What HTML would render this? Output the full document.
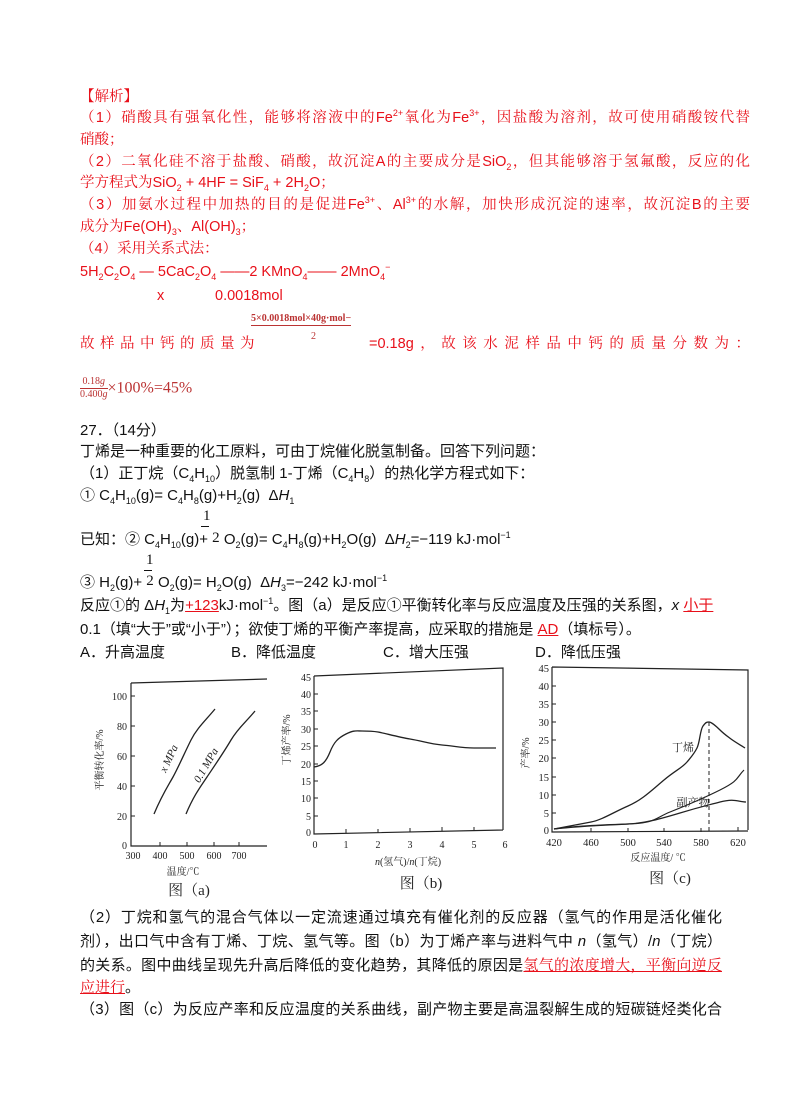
<!DOCTYPE html>
<html><head><meta charset="utf-8">
<style>
html,body{margin:0;padding:0;background:#fff;}
body{width:800px;height:1109px;position:relative;overflow:hidden;}
.l{position:absolute;left:80px;white-space:nowrap;line-height:20px;}
.r{color:#e8101a;font-family:"Liberation Sans","Noto Serif CJK SC",serif;font-size:14.5px;}
.k{color:#111;font-family:"Liberation Sans","Noto Sans CJK SC",sans-serif;font-size:15px;}
.j{width:670px;text-align:justify;text-align-last:justify;}
.jb{width:642px;text-align:justify;text-align-last:justify;}
sub,sup{font-size:9px;line-height:0;}
.u{text-decoration:underline;color:#e8101a;}
svg{position:absolute;left:0;top:0;}
</style></head><body>
<div class="l r" style="top:87px;">【解析】</div>
<div class="l r j" style="top:108px;">（1）硝酸具有强氧化性，能够将溶液中的Fe<sup>2+</sup>氧化为Fe<sup>3+</sup>，因盐酸为溶剂，故可使用硝酸铵代替</div>
<div class="l r" style="top:130px;">硝酸；</div>
<div class="l r j" style="top:152px;">（2）二氧化硅不溶于盐酸、硝酸，故沉淀A的主要成分是SiO<sub>2</sub>，但其能够溶于氢氟酸，反应的化</div>
<div class="l r" style="top:173px;">学方程式为SiO<sub>2</sub> + 4HF = SiF<sub>4</sub> + 2H<sub>2</sub>O；</div>
<div class="l r j" style="top:195px;">（3）加氨水过程中加热的目的是促进Fe<sup>3+</sup>、Al<sup>3+</sup>的水解，加快形成沉淀的速率，故沉淀B的主要</div>
<div class="l r" style="top:217px;">成分为Fe(OH)<sub>3</sub>、Al(OH)<sub>3</sub>；</div>
<div class="l r" style="top:239px;">（4）采用关系式法：</div>
<div class="l r" style="top:262px;">5H<sub>2</sub>C<sub>2</sub>O<sub>4</sub> — 5CaC<sub>2</sub>O<sub>4</sub> ——2 KMnO<sub>4</sub>—— 2MnO<sub>4</sub><sup>−</sup></div>
<div class="l r" style="top:286px;left:157px;">x</div>
<div class="l r" style="top:286px;left:215px;">0.0018mol</div>
<div class="l" style="top:312px;left:251px;font:bold 10px 'Liberation Serif',serif;color:#b33;border-bottom:1px solid #b33;line-height:13px;">5×0.0018mol×40g·mol−</div>
<div class="l" style="top:331px;left:311px;font:10px 'Liberation Serif',serif;color:#b33;">2</div>
<div class="l r" style="top:334px;letter-spacing:5.5px;">故样品中钙的质量为</div>
<div class="l r" style="top:334px;left:369px;width:381px;text-align:justify;text-align-last:justify;">=0.18g，故该水泥样品中钙的质量分数为：</div>
<div class="l" style="top:376px;font:10px 'Liberation Serif',serif;color:#b33;line-height:12px;"><span style="display:inline-block;text-align:center;vertical-align:middle;"><span style="display:block;border-bottom:1px solid #b33;">0.18<i>g</i></span><span style="display:block;">0.400<i>g</i></span></span><span style="font-size:16px;vertical-align:middle;">×100%=45%</span></div>

<div class="l k" style="top:421px;">27．（14分）</div>
<div class="l k" style="top:442px;">丁烯是一种重要的化工原料，可由丁烷催化脱氢制备。回答下列问题：</div>
<div class="l k" style="top:464px;">（1）正丁烷（C<sub>4</sub>H<sub>10</sub>）脱氢制 1-丁烯（C<sub>4</sub>H<sub>8</sub>）的热化学方程式如下：</div>
<div class="l k" style="top:486px;">① C<sub>4</sub>H<sub>10</sub>(g)= C<sub>4</sub>H<sub>8</sub>(g)+H<sub>2</sub>(g) &nbsp;Δ<i>H</i><sub>1</sub></div>
<div class="l k" style="top:506px;left:203px;font-family:'Liberation Serif',serif;">1</div>
<div class="l" style="top:526px;left:201px;width:8px;border-top:1px solid #111;"></div>
<div class="l k" style="top:530px;">已知：② C<sub>4</sub>H<sub>10</sub>(g)+ <span style="font-family:'Liberation Serif',serif;position:relative;top:-2px;">2</span> O<sub>2</sub>(g)= C<sub>4</sub>H<sub>8</sub>(g)+H<sub>2</sub>O(g) &nbsp;Δ<i>H</i><sub>2</sub>=−119 kJ·mol<sup>−1</sup></div>
<div class="l k" style="top:550px;left:146px;font-family:'Liberation Serif',serif;">1</div>
<div class="l" style="top:570px;left:144px;width:8px;border-top:1px solid #111;"></div>
<div class="l k" style="top:573px;">③ H<sub>2</sub>(g)+ <span style="font-family:'Liberation Serif',serif;position:relative;top:-2px;">2</span> O<sub>2</sub>(g)= H<sub>2</sub>O(g) &nbsp;Δ<i>H</i><sub>3</sub>=−242 kJ·mol<sup>−1</sup></div>
<div class="l k" style="top:596px;">反应①的 Δ<i>H</i><sub>1</sub>为<span class="u">+123</span>kJ·mol<sup>−1</sup>。图（a）是反应①平衡转化率与反应温度及压强的关系图，<i>x</i> <span class="u">小于</span></div>
<div class="l k" style="top:620px;">0.1（填“大于”或“小于”）；欲使丁烯的平衡产率提高，应采取的措施是 <span class="u">AD</span>（填标号）。</div>
<div class="l k" style="top:643px;">A．升高温度</div>
<div class="l k" style="top:643px;left:231px;">B．降低温度</div>
<div class="l k" style="top:643px;left:383px;">C．增大压强</div>
<div class="l k" style="top:643px;left:535px;">D．降低压强</div>

<div class="l k jb" style="top:908px;">（2）丁烷和氢气的混合气体以一定流速通过填充有催化剂的反应器（氢气的作用是活化催化</div>
<div class="l k jb" style="top:932px;">剂），出口气中含有丁烯、丁烷、氢气等。图（b）为丁烯产率与进料气中 <i>n</i>（氢气）/<i>n</i>（丁烷）</div>
<div class="l k jb" style="top:955px;">的关系。图中曲线呈现先升高后降低的变化趋势，其降低的原因是<span class="u" style="font-family:'Noto Serif CJK SC',serif;">氢气的浓度增大，平衡向逆反</span></div>
<div class="l k" style="top:977px;"><span class="u" style="font-family:'Noto Serif CJK SC',serif;">应进行</span>。</div>
<div class="l k jb" style="top:1000px;">（3）图（c）为反应产率和反应温度的关系曲线，副产物主要是高温裂解生成的短碳链烃类化合</div>

<svg width="800" height="1109" viewBox="0 0 800 1109" font-family="Liberation Serif, Noto Serif CJK SC, serif" fill="none" stroke="#222">
<path d="M131 683 L267 679 M131 683 L131 846 L267 846" stroke-width="1.2"/>
<g stroke-width="1"><path d="M131 696h4M131 726h4M131 756h4M131 786h4M131 816h4M160 846v-4M187 846v-4M214 846v-4M239 846v-4"/></g>
<g fill="#222" stroke="none" font-size="10" text-anchor="end">
<text x="127" y="700">100</text><text x="127" y="730">80</text><text x="127" y="760">60</text><text x="127" y="790">40</text><text x="127" y="820">20</text><text x="127" y="849">0</text>
</g>
<g fill="#222" stroke="none" font-size="10" text-anchor="middle">
<text x="133" y="859">300</text><text x="160" y="859">400</text><text x="187" y="859">500</text><text x="214" y="859">600</text><text x="239" y="859">700</text>
<text x="183" y="875" font-size="10">温度/℃</text>
<text x="189" y="895" font-size="15">图（a)</text>
<text transform="translate(103 760) rotate(-90)" font-size="10">平衡转化率/%</text>
<text transform="translate(172 760) rotate(-65)" font-size="11" font-style="italic">x MPa</text>
<text transform="translate(209 767) rotate(-60)" font-size="11" font-style="italic">0.1 MPa</text>
</g>
<path d="M154 814 C162 795 168 786 173 777 S185 752 191 740 S206 720 215 709" stroke-width="1.3"/>
<path d="M186 814 C194 795 201 786 207 777 S224 752 231 740 S246 722 255 711" stroke-width="1.3"/>

<path d="M314 676 L503 668 L503 830 M314 676 L314 834 L503 830" stroke-width="1.2"/>
<g stroke-width="1"><path d="M314 694h4M314 711h4M314 729h4M314 746h4M314 764h4M314 781h4M314 798h4M314 816h4M346 833v-4M378 833v-4M410 832v-4M442 831v-4M474 831v-4"/></g>
<g fill="#222" stroke="none" font-size="10" text-anchor="end">
<text x="311" y="681">45</text><text x="311" y="698">40</text><text x="311" y="715">35</text><text x="311" y="733">30</text><text x="311" y="750">25</text><text x="311" y="768">20</text><text x="311" y="785">15</text><text x="311" y="802">10</text><text x="311" y="820">5</text><text x="311" y="836">0</text>
</g>
<g fill="#222" stroke="none" font-size="10" text-anchor="middle">
<text x="315" y="848">0</text><text x="346" y="848">1</text><text x="378" y="848">2</text><text x="410" y="848">3</text><text x="442" y="848">4</text><text x="474" y="848">5</text><text x="505" y="848">6</text>
<text x="408" y="865"><tspan font-style="italic">n</tspan>(氢气)/<tspan font-style="italic">n</tspan>(丁烷)</text>
<text x="421" y="888" font-size="15">图（b)</text>
<text transform="translate(290 740) rotate(-90)">丁烯产率/%</text>
</g>
<path d="M314 767 C322 766 326 762 330 752 S338 738 346 734 S356 731 362 731 S372 731 378 732 S398 737 410 739 S430 744 442 745 S462 748 474 748 L496 748" stroke-width="1.3"/>

<path d="M552 667 L748 670 L748 830 M552 667 L552 832 L748 831" stroke-width="1.2"/>
<g stroke-width="1"><path d="M552 686h4M552 704h4M552 722h4M552 740h4M552 758h4M552 777h4M552 795h4M552 813h4M591 832v-4M628 832v-4M664 832v-4M701 832v-4M738 831v-4"/></g>
<g fill="#222" stroke="none" font-size="10.5" text-anchor="end">
<text x="549" y="672">45</text><text x="549" y="690">40</text><text x="549" y="708">35</text><text x="549" y="726">30</text><text x="549" y="744">25</text><text x="549" y="762">20</text><text x="549" y="781">15</text><text x="549" y="799">10</text><text x="549" y="817">5</text><text x="549" y="834">0</text>
</g>
<g fill="#222" stroke="none" font-size="10.5" text-anchor="middle">
<text x="554" y="846">420</text><text x="591" y="846">460</text><text x="628" y="846">500</text><text x="664" y="846">540</text><text x="701" y="846">580</text><text x="738" y="846">620</text>
<text x="658" y="861" font-size="10">反应温度/ ℃</text>
<text x="670" y="883" font-size="15">图（c)</text>
<text transform="translate(529 753) rotate(-90)" font-size="10">产率/%</text>
<text x="683" y="751" font-size="11">丁烯</text>
<text x="693" y="806" font-size="11">副产物</text>
</g>
<path d="M554 829 C570 826 580 824 591 822 S614 812 628 806 S652 790 664 780 S682 768 687 762 S694 754 697 748 S700 730 703 726 S707 722 709 722 S716 726 720 730 S727 736 731 739 S742 746 745 748" stroke-width="1.3"/>
<path d="M554 829 C575 826 600 825 628 824 S655 818 670 812 S700 800 720 790 S736 778 744 770" stroke-width="1.2"/>
<path d="M554 829 C580 826 610 825 628 824 S660 819 680 813 S705 806 720 802 S738 802 746 802" stroke-width="1.2"/>
<path d="M709 722 V831" stroke-width="1" stroke-dasharray="4 3"/>
</svg>
</body></html>
